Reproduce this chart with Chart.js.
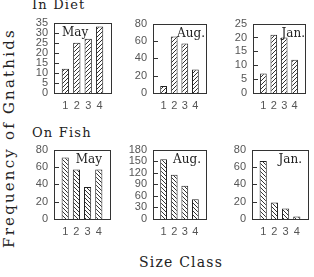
<!DOCTYPE html>
<html>
<head>
<meta charset="utf-8">
<script src="https://cdn.jsdelivr.net/npm/chart.js@4/dist/chart.umd.min.js"></script>
<style>
  body { margin: 0; background: #fff; width: 314px; height: 277px; position: relative; overflow: hidden; font-family: "DejaVu Serif", serif; color: #222; }
  .t { position: absolute; white-space: nowrap; }
  canvas { position: absolute; }
</style>
</head>
<body>
<div class="t" style="left:32px;top:-2px;font-size:13px;line-height:13px;letter-spacing:1.2px">In Diet</div>
<div class="t" style="left:32px;top:126px;font-size:13px;line-height:13px;letter-spacing:1.2px">On Fish</div>
<div class="t" style="left:81px;top:255px;width:200px;text-align:center;font-size:14px;line-height:14px;letter-spacing:1.2px">Size Class</div>
<div class="t" style="left:-111px;top:130px;width:240px;text-align:center;font-size:15px;line-height:16px;letter-spacing:2.2px;transform:rotate(-90deg)">Frequency of Gnathids</div>

<script>
// ===== データ =====
const sizeClasses = ["1", "2", "3", "4"];
const dietMay = [12, 25, 27, 33];
const dietAug = [8, 65, 57, 27];
const dietJan = [7, 21, 20, 12];
const fishMay = [71, 57, 37, 57];
const fishAug = [155, 115, 86, 51];
const fishJan = [67, 19, 12, 3];
const yMax = [35, 80, 25, 80, 180, 80];
const yStep = [5, 20, 5, 20, 30, 20];
const months = ["May", "Aug.", "Jan.", "May", "Aug.", "Jan."];

// パネル配置（枠の位置）
const panels = [
  { data: dietMay, L: 54, T: 23, R: 113, B: 93, dir: 1, lab: { x: 8, align: "left" } },
  { data: dietAug, L: 153, T: 24, R: 208, B: 93, dir: 1, lab: { x: -1, align: "right" } },
  { data: dietJan, L: 253, T: 24, R: 307, B: 93, dir: 1, lab: { x: 0, align: "right" } },
  { data: fishMay, L: 54, T: 150, R: 112, B: 219, dir: -1, lab: { x: -8, align: "right" } },
  { data: fishAug, L: 153, T: 150, R: 208, B: 219, dir: -1, lab: { x: -5, align: "right" } },
  { data: fishJan, L: 252, T: 150, R: 310, B: 219, dir: -1, lab: { x: -6, align: "right" } }
];

const PT = 10, PR = 2, YW = 30, XH = 22;
const tickFont = { family: "'Liberation Sans', Arial, sans-serif", size: 11 };

function hatch(ctx, dir) {
  const c = document.createElement("canvas");
  c.width = c.height = 4;
  const g = c.getContext("2d");
  g.fillStyle = "#fff";
  g.fillRect(0, 0, 4, 4);
  g.strokeStyle = "#333";
  g.lineWidth = 1;
  g.beginPath();
  if (dir > 0) {
    g.moveTo(-1, 5); g.lineTo(5, -1);
    g.moveTo(-1, 1); g.lineTo(1, -1);
    g.moveTo(3, 5); g.lineTo(5, 3);
  } else {
    g.moveTo(-1, -1); g.lineTo(5, 5);
    g.moveTo(3, -1); g.lineTo(5, 1);
    g.moveTo(-1, 3); g.lineTo(1, 5);
  }
  g.stroke();
  return ctx.createPattern(c, "repeat");
}

// 枠・内向き目盛・月ラベル
const frame = {
  id: "frame",
  afterDatasetsDraw(chart, args, opts) {
    const { ctx, chartArea: a, scales: { y } } = chart;
    ctx.save();
    ctx.strokeStyle = "#333";
    ctx.lineWidth = 1;
    y.ticks.forEach(t => {
      const py = Math.round(y.getPixelForValue(t.value)) + 0.5;
      ctx.beginPath();
      ctx.moveTo(a.left, py);
      ctx.lineTo(a.left + 5, py);
      ctx.stroke();
    });
    ctx.strokeRect(Math.round(a.left) + 0.5, Math.round(a.top) + 0.5, Math.round(a.width), Math.round(a.height));
    ctx.fillStyle = "#222";
    ctx.font = "12px 'DejaVu Serif', serif";
    ctx.textBaseline = "middle";
    ctx.textAlign = opts.align;
    const x = opts.align === "left" ? a.left + opts.x : a.right + opts.x;
    ctx.fillText(opts.text, x, a.top + 10);
    ctx.restore();
  }
};

panels.forEach((p, i) => {
  const cv = document.createElement("canvas");
  cv.width = p.R - p.L + YW + PR;
  cv.height = p.B - p.T + PT + XH;
  document.body.appendChild(cv);
  const ctx = cv.getContext("2d");

  const chart = new Chart(ctx, {
    type: "bar",
    data: {
      labels: ["", ...sizeClasses, ""],
      datasets: [{
        data: [null, ...p.data, null],
        backgroundColor: hatch(ctx, p.dir),
        borderColor: "#222",
        borderWidth: 1,
        barPercentage: 0.64,
        categoryPercentage: 1
      }]
    },
    options: {
      responsive: false,
      animation: false,
      devicePixelRatio: 1,
      layout: { padding: { top: PT, right: PR, left: 0, bottom: 0 } },
      plugins: {
        legend: { display: false },
        tooltip: { enabled: false },
        frame: { text: months[i], x: p.lab.x, align: p.lab.align }
      },
      scales: {
        x: {
          type: "category",
          offset: false,
          grid: { display: false, drawTicks: false },
          border: { display: false },
          ticks: { autoSkip: false, maxRotation: 0, padding: 6, color: "#555", font: tickFont },
          afterFit: s => { s.height = XH; }
        },
        y: {
          min: 0,
          max: yMax[i],
          grid: { display: false, drawTicks: false },
          border: { display: false },
          ticks: { stepSize: yStep[i], autoSkip: false, padding: 6, color: "#555", font: tickFont },
          afterFit: s => { s.width = YW; }
        }
      }
    },
    plugins: [frame]
  });

  // 描画領域が枠の寸法に合うようにキャンバスを調整
  const a = chart.chartArea;
  chart.resize(cv.width + (p.R - p.L) - a.width, Math.round(cv.height + (p.B - p.T) - a.height));
  const b = chart.chartArea;
  cv.style.left = Math.round(p.L - b.left) + "px";
  cv.style.top = Math.round(p.T - b.top) + "px";
});
</script>
</body>
</html>
